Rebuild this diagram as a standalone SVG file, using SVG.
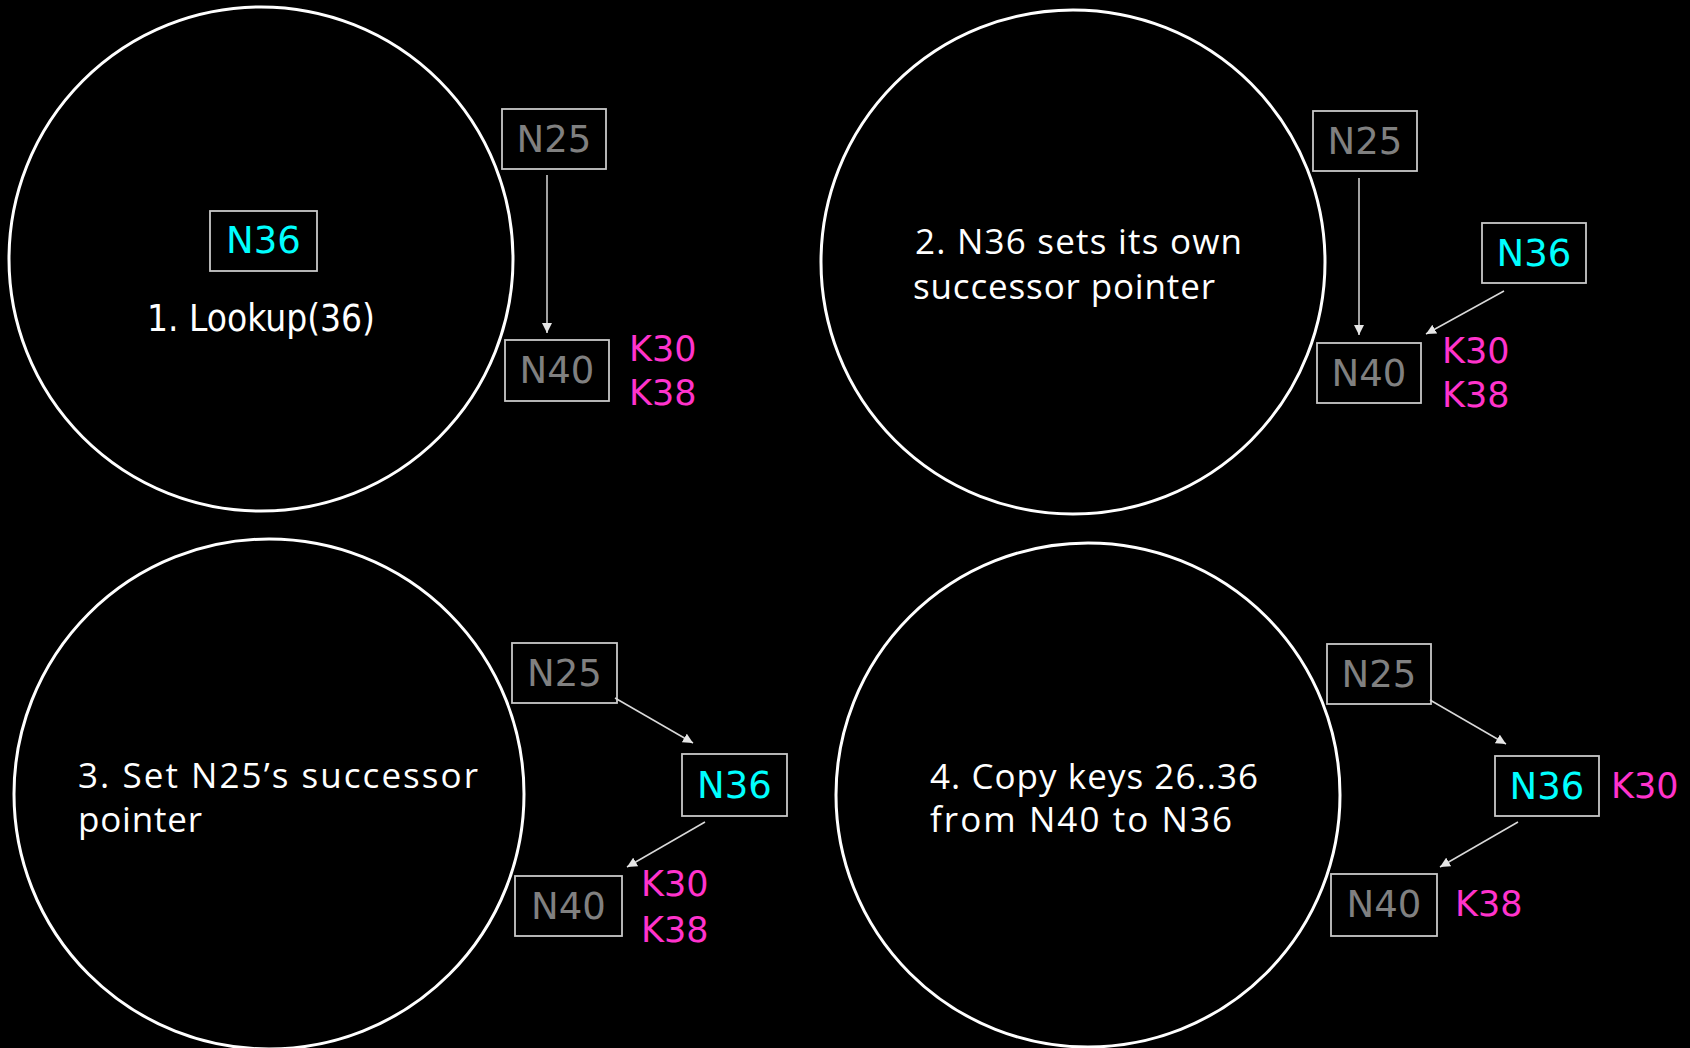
<svg xmlns="http://www.w3.org/2000/svg" width="1690" height="1048" viewBox="0 0 1690 1048">
  <defs>
    <style>
      .ring { fill: none; stroke: #ffffff; stroke-width: 3; }
      .box { fill: #000000; stroke: #c8c8c8; stroke-width: 1.8; }
      .lbl { font-family: "DejaVu Sans", "Liberation Sans", sans-serif; font-size: 37px; text-anchor: middle; }
      .old { fill: #808080; }
      .new { fill: #00ffff; }
      .key { font-family: "DejaVu Sans", "Liberation Sans", sans-serif; font-size: 35px; fill: #ff33cc; }
      .step { font-family: "Open Sans", "DejaVu Sans", sans-serif; font-size: 35px; fill: #ffffff; }
      .lookup { font-family: "DejaVu Sans Condensed", "DejaVu Sans", sans-serif; font-size: 37px; fill: #ffffff; }
      .edge { stroke: #d9d9d9; stroke-width: 1.5; fill: none; marker-end: url(#tip); }
    </style>
    <marker id="tip" viewBox="0 0 10 10" refX="10" refY="5" markerWidth="10" markerHeight="10" markerUnits="userSpaceOnUse" orient="auto">
      <path d="M0,0 L10,5 L0,10 z" fill="#e6e6e6"/>
    </marker>
  </defs>

  <rect width="1690" height="1048" fill="#000000"/>

  <!-- rings -->
  <g id="rings">
    <circle class="ring" cx="261" cy="259" r="252"/>
    <circle class="ring" cx="1073" cy="262" r="252"/>
    <circle class="ring" cx="269" cy="794" r="255"/>
    <circle class="ring" cx="1088" cy="795" r="252"/>
  </g>

  <!-- step captions -->
  <g id="captions">
    <text class="lookup" x="147" y="331" textLength="228" lengthAdjust="spacingAndGlyphs">1. Lookup(36)</text>
    <text class="step">
      <tspan x="915" y="254" textLength="327" lengthAdjust="spacing">2. N36 sets its own</tspan>
      <tspan x="913" y="299" textLength="302" lengthAdjust="spacing">successor pointer</tspan>
    </text>
    <text class="step">
      <tspan x="78" y="788" textLength="400" lengthAdjust="spacing">3. Set N25’s successor</tspan>
      <tspan x="78" y="832" textLength="124" lengthAdjust="spacing">pointer</tspan>
    </text>
    <text class="step">
      <tspan x="930" y="789" textLength="328" lengthAdjust="spacing">4. Copy keys 26..36</tspan>
      <tspan x="930" y="832" textLength="302" lengthAdjust="spacing">from N40 to N36</tspan>
    </text>
  </g>

  <!-- step 1 nodes -->
  <g id="p1-n36">
    <rect class="box" x="210" y="211" width="107" height="60"/>
    <text class="lbl new" x="263.5" y="253">N36</text>
  </g>
  <g id="p1-n25">
    <rect class="box" x="502" y="109" width="104" height="60"/>
    <text class="lbl old" x="554" y="152">N25</text>
  </g>
  <g id="p1-n40">
    <rect class="box" x="505" y="340" width="104" height="61"/>
    <text class="lbl old" x="557" y="383">N40</text>
    <text class="key" x="629" y="361">K30</text>
    <text class="key" x="629" y="405">K38</text>
  </g>

  <!-- step 2 nodes -->
  <g id="p2-n25">
    <rect class="box" x="1313" y="111" width="104" height="60"/>
    <text class="lbl old" x="1365" y="154">N25</text>
  </g>
  <g id="p2-n36">
    <rect class="box" x="1482" y="223" width="104" height="60"/>
    <text class="lbl new" x="1534" y="266">N36</text>
  </g>
  <g id="p2-n40">
    <rect class="box" x="1317" y="343" width="104" height="60"/>
    <text class="lbl old" x="1369" y="386">N40</text>
    <text class="key" x="1442" y="363">K30</text>
    <text class="key" x="1442" y="407">K38</text>
  </g>

  <!-- step 3 nodes -->
  <g id="p3-n25">
    <rect class="box" x="512" y="643" width="105" height="60"/>
    <text class="lbl old" x="564.5" y="686">N25</text>
  </g>
  <g id="p3-n36">
    <rect class="box" x="682" y="754" width="105" height="62"/>
    <text class="lbl new" x="734.5" y="798">N36</text>
  </g>
  <g id="p3-n40">
    <rect class="box" x="515" y="876" width="107" height="60"/>
    <text class="lbl old" x="568.5" y="919">N40</text>
    <text class="key" x="641" y="896">K30</text>
    <text class="key" x="641" y="942">K38</text>
  </g>

  <!-- step 4 nodes -->
  <g id="p4-n25">
    <rect class="box" x="1327" y="644" width="104" height="60"/>
    <text class="lbl old" x="1379" y="687">N25</text>
  </g>
  <g id="p4-n36">
    <rect class="box" x="1495" y="756" width="104" height="60"/>
    <text class="lbl new" x="1547" y="799">N36</text>
    <text class="key" x="1611" y="798">K30</text>
  </g>
  <g id="p4-n40">
    <rect class="box" x="1331" y="874" width="106" height="62"/>
    <text class="lbl old" x="1384" y="917">N40</text>
    <text class="key" x="1455" y="916">K38</text>
  </g>

  <!-- successor pointers -->
  <g id="connectors">
    <line class="edge" x1="547" y1="175" x2="547" y2="333"/>
    <line class="edge" x1="1359" y1="178" x2="1359" y2="335"/>
    <line class="edge" x1="1504" y1="291" x2="1426" y2="334"/>
    <line class="edge" x1="615" y1="698" x2="693" y2="743"/>
    <line class="edge" x1="705" y1="822" x2="627" y2="867"/>
    <line class="edge" x1="1430" y1="700" x2="1506" y2="744"/>
    <line class="edge" x1="1518" y1="822" x2="1440" y2="867"/>
  </g>
</svg>
